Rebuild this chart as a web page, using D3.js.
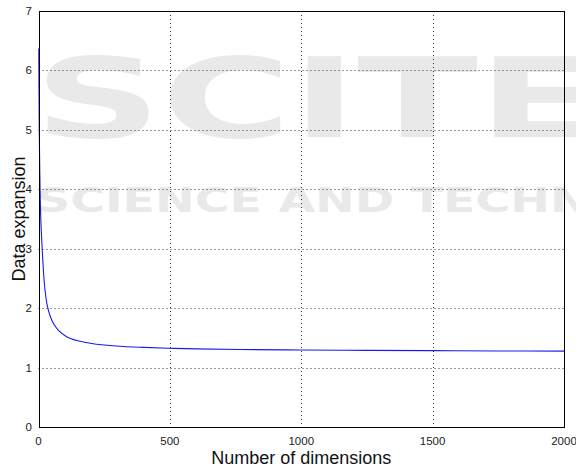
<!DOCTYPE html>
<html>
<head>
<meta charset="utf-8">
<script src="https://cdn.jsdelivr.net/npm/d3@7.9.0/dist/d3.min.js"></script>
<style>
  body { margin: 0; background: #fff; }
  svg { display: block; font-family: "Liberation Sans", Arial, sans-serif; }
</style>
</head>
<body>
<div id="chart"></div>
<script>
// values
const dims = [1, 2, 3, 4, 6, 8, 10, 14, 20, 25, 33, 45, 56, 75, 107, 150, 196, 250, 323, 400, 494, 600, 767, 1000, 1250, 1500, 1750, 2000];
const expansion = [6.37, 5.6, 5.0, 4.6, 4.0, 3.6, 3.35, 3.0, 2.55, 2.3, 2.05, 1.86, 1.75, 1.63, 1.52, 1.45, 1.41, 1.38, 1.355, 1.34, 1.325, 1.315, 1.305, 1.295, 1.29, 1.285, 1.28, 1.277];
const xTicks = [0, 500, 1000, 1500, 2000];
const yTicks = [0, 1, 2, 3, 4, 5, 6, 7];

const width = 576;
const height = 470;
const margin = { top: 11, right: 12, bottom: 43, left: 38.5 };

const svg = d3.select('#chart')
  .append('svg')
  .attr('width', width)
  .attr('height', height);

// faint publisher watermark behind the plot
const wm = svg.append('g')
  .attr('fill', '#e9e9e9')
  .attr('font-family', 'DejaVu Sans, sans-serif')
  .attr('font-weight', 'bold');
wm.append('text')
  .attr('x', 34).attr('y', 137)
  .attr('font-size', 110)
  .attr('textLength', 565)
  .attr('lengthAdjust', 'spacingAndGlyphs')
  .text('SCITE');
wm.append('text')
  .attr('x', 36).attr('y', 212)
  .attr('font-size', 34)
  .attr('textLength', 735)
  .attr('lengthAdjust', 'spacingAndGlyphs')
  .text('SCIENCE AND TECHNOLOGY');

const x = d3.scaleLinear()
  .domain([0, 2000])
  .range([margin.left, width - margin.right]);

const y = d3.scaleLinear()
  .domain([0, 7])
  .range([height - margin.bottom, margin.top]);

// dotted grid
const grid = svg.append('g')
  .attr('stroke', '#333')
  .attr('stroke-width', 1)
  .attr('stroke-dasharray', '1,3');

grid.selectAll('.gx')
  .data(xTicks.slice(1, -1))
  .join('line')
  .attr('x1', d => Math.round(x(d)) + 0.5)
  .attr('x2', d => Math.round(x(d)) + 0.5)
  .attr('y1', y(7))
  .attr('y2', y(0));

grid.selectAll('.gy')
  .data(yTicks.slice(1, -1))
  .join('line')
  .attr('y1', d => Math.round(y(d)) + 0.5)
  .attr('y2', d => Math.round(y(d)) + 0.5)
  .attr('x1', x(0))
  .attr('x2', x(2000));

// curve
const points = dims.map((d, i) => [d, expansion[i]]);
const line = d3.line()
  .x(d => x(d[0]))
  .y(d => y(d[1]))
  .curve(d3.curveCatmullRom.alpha(0.5));

svg.append('path')
  .datum(points)
  .attr('fill', 'none')
  .attr('stroke', '#1a1aee')
  .attr('stroke-width', 1.1)
  .attr('d', line);

// axis box
svg.append('rect')
  .attr('x', Math.round(x(0)) + 0.5)
  .attr('y', Math.round(y(7)) + 0.5)
  .attr('width', Math.round(x(2000)) - Math.round(x(0)))
  .attr('height', Math.round(y(0)) - Math.round(y(7)))
  .attr('fill', 'none')
  .attr('stroke', '#000')
  .attr('stroke-width', 1);

// tick labels
svg.append('g')
  .selectAll('text')
  .data(yTicks)
  .join('text')
  .attr('x', 32)
  .attr('y', d => y(d))
  .attr('dy', '0.35em')
  .attr('text-anchor', 'end')
  .attr('font-size', 11.5)
  .attr('fill', '#222')
  .text(d => d);

svg.append('g')
  .selectAll('text')
  .data(xTicks)
  .join('text')
  .attr('x', d => x(d))
  .attr('y', 445)
  .attr('text-anchor', 'middle')
  .attr('font-size', 11.5)
  .attr('fill', '#222')
  .text(d => d);

// axis titles
svg.append('text')
  .attr('x', (x(0) + x(2000)) / 2)
  .attr('y', 464)
  .attr('text-anchor', 'middle')
  .attr('font-size', 18)
  .attr('fill', '#111')
  .text('Number of dimensions');

svg.append('text')
  .attr('transform', `translate(25, ${(y(0) + y(7)) / 2}) rotate(-90)`)
  .attr('text-anchor', 'middle')
  .attr('font-size', 18)
  .attr('fill', '#111')
  .text('Data expansion');
</script>
</body>
</html>
